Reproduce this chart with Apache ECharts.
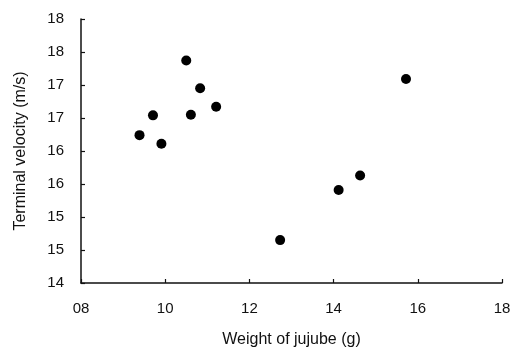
<!DOCTYPE html>
<html>
<head>
<meta charset="utf-8">
<script src="https://cdn.jsdelivr.net/npm/echarts@6/dist/echarts.min.js"></script>
<style>html,body{margin:0;padding:0;background:#fff}#c{width:516px;height:353px}</style>
</head>
<body>
<div id="c"></div>
<script>
var weights = [9.39, 9.71, 9.91, 10.50, 10.61, 10.83, 11.21, 12.73, 14.12, 14.63, 15.72];
var velocities = [16.24, 16.54, 16.11, 17.37, 16.55, 16.95, 16.67, 14.65, 15.41, 15.63, 17.09];
var xTickLabels = ['08', '10', '12', '14', '16', '18'];
var yTickLabels = ['14', '15', '15', '16', '16', '17', '17', '18', '18'];
var xTitle = 'Weight of jujube (g)';
var yTitle = 'Terminal velocity (m/s)';

var pts = weights.map(function (w, i) { return [w, velocities[i]]; });
var font = 'Liberation Sans, Arial, sans-serif';
var chart = echarts.init(document.getElementById('c'), null, {renderer: 'canvas'});
chart.setOption({
  animation: false,
  backgroundColor: '#fff',
  grid: {left: 81, top: 19, right: 14, bottom: 68, containLabel: false},
  xAxis: {
    type: 'value', min: 8, max: 18, interval: 2,
    name: xTitle, nameLocation: 'middle', nameGap: 49,
    nameTextStyle: {fontFamily: font, fontSize: 16, color: '#111'},
    axisLine: {show: true, lineStyle: {color: '#111', width: 1.5}},
    axisTick: {show: true, inside: true, length: 4, lineStyle: {color: '#111', width: 1.2}},
    axisLabel: {fontFamily: font, fontSize: 15, color: '#111', margin: 18,
      formatter: function (v) { return xTickLabels[Math.round((v - 8) / 2)]; }},
    splitLine: {show: false}
  },
  yAxis: {
    type: 'value', min: 14, max: 18, interval: 0.5,
    name: yTitle, nameLocation: 'middle', nameGap: 52, nameRotate: 90,
    nameTextStyle: {fontFamily: font, fontSize: 16, color: '#111'},
    axisLine: {show: true, lineStyle: {color: '#111', width: 1.5}},
    axisTick: {show: true, inside: true, length: 4, lineStyle: {color: '#111', width: 1.2}},
    axisLabel: {fontFamily: font, fontSize: 15, color: '#111', margin: 17,
      formatter: function (v) { return yTickLabels[Math.round((v - 14) / 0.5)]; }},
    splitLine: {show: false}
  },
  series: [{
    type: 'scatter',
    data: pts,
    symbol: 'circle',
    symbolSize: 10,
    itemStyle: {color: '#000', opacity: 1}
  }]
});
</script>
</body>
</html>
